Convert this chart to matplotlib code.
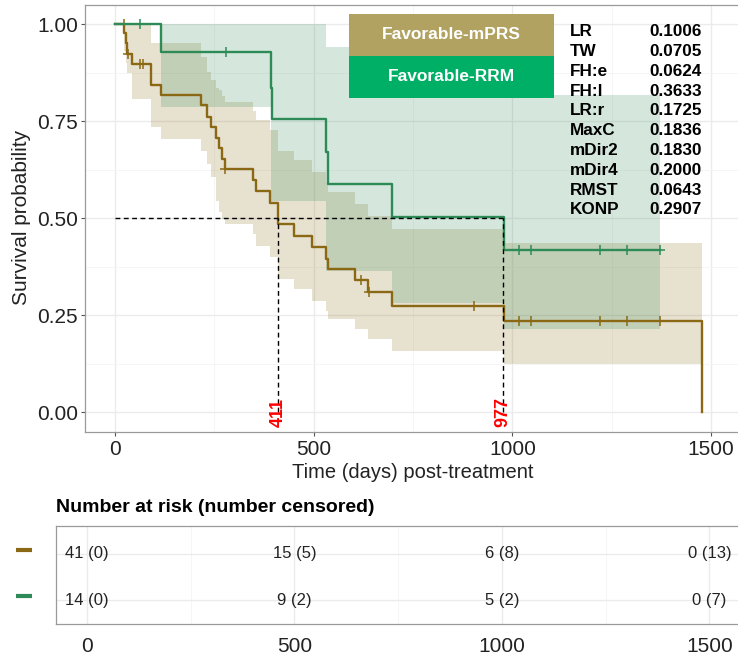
import numpy as np
import matplotlib
matplotlib.use("Agg")
import matplotlib.pyplot as plt
from matplotlib.patches import Rectangle
from matplotlib.transforms import blended_transform_factory

plt.rcParams['font.family'] = ['Liberation Sans', 'DejaVu Sans']

# Kaplan-Meier steps (time, survival, lower CI, upper CI)
mprs_t = [0, 23, 27, 31, 42, 92, 115, 217, 232, 242, 255, 261, 270, 278, 347, 355,
          391, 410, 450, 496, 531, 535, 604, 636, 696, 978, 1478]
mprs_s = [1.0, 0.976, 0.951, 0.924, 0.898, 0.842, 0.817, 0.791, 0.760, 0.735, 0.707,
          0.681, 0.653, 0.627, 0.597, 0.569, 0.540, 0.485, 0.455, 0.426, 0.394, 0.369,
          0.340, 0.310, 0.274, 0.235, 0.0]
mprs_lo = [1.0, 0.93, 0.90, 0.873, 0.808, 0.735, 0.705, 0.674, 0.640, 0.605, 0.545,
           0.515, 0.498, 0.485, 0.459, 0.429, 0.399, 0.343, 0.317, 0.287, 0.262, 0.240,
           0.214, 0.188, 0.158, 0.125, 0.125]
mprs_hi = [1.0, 1.0, 1.0, 1.0, 1.0, 0.950, 0.950, 0.916, 0.877, 0.855, 0.835, 0.829,
           0.815, 0.799, 0.775, 0.752, 0.728, 0.674, 0.649, 0.620, 0.590, 0.567, 0.537,
           0.506, 0.472, 0.437, 0.437]
mprs_cens = [22, 34, 63, 71, 278, 619, 640, 903, 1016, 1048, 1221, 1288, 1371]

rrm_t = [0, 115, 393, 396, 531, 535, 698, 978, 1371]
rrm_s = [1.0, 0.929, 0.836, 0.756, 0.670, 0.588, 0.502, 0.418, 0.418]
rrm_lo = [1.0, 0.786, 0.545, 0.545, 0.364, 0.364, 0.282, 0.214, 0.214]
rrm_hi = [1.0, 1.0, 1.0, 1.0, 0.941, 0.941, 0.88, 0.817, 0.817]
rrm_cens = [63, 280, 1016, 1048, 1221, 1288, 1371]

medians = [411, 977]

test_names = ['LR', 'TW', 'FH:e', 'FH:l', 'LR:r', 'MaxC', 'mDir2', 'mDir4', 'RMST', 'KONP']
test_p = ['0.1006', '0.0705', '0.0624', '0.3633', '0.1725', '0.1836', '0.1830',
          '0.2000', '0.0643', '0.2907']

groups = ['Favorable-mPRS', 'Favorable-RRM']
risk_times = [0, 500, 1000, 1500]
mprs_risk = [41, 15, 6, 0]
mprs_ncens = [0, 5, 8, 13]
rrm_risk = [14, 9, 5, 0]
rrm_ncens = [0, 2, 2, 7]

gold = '#8B6914'
green = '#2E8B57'
box_cols = ['#B1A262', '#00AF66']

W, H = 738, 656
fig = plt.figure(figsize=(W/100, H/100), dpi=100)

def px_axes(l, t, r, b):
    return fig.add_axes([l/W, 1 - b/H, (r - l)/W, (b - t)/H])

def style(a):
    for s in a.spines.values():
        s.set_color('#9a9a9a')
        s.set_linewidth(0.9)
    a.grid(which='major', color='#ebebeb', lw=1.0)
    a.grid(which='minor', color='#f4f4f4', lw=0.6)
    a.set_axisbelow(True)
    a.tick_params(which='major', length=3, width=0.8, color='#555555',
                  labelsize=15, labelcolor='#222222')
    a.tick_params(which='minor', length=0)

# main survival panel
ax = px_axes(85, 4.6, 741, 431.7)
ax.set_xlim(-75, 1575)
ax.set_ylim(-0.05, 1.05)
ax.set_xticks([0, 500, 1000, 1500])
ax.set_xticks([250, 750, 1250], minor=True)
ax.set_yticks([0, 0.25, 0.5, 0.75, 1.0])
ax.set_yticklabels(['0.00', '0.25', '0.50', '0.75', '1.00'])
ax.set_yticks([0.125, 0.375, 0.625, 0.875], minor=True)
style(ax)
ax.tick_params(axis='x', pad=3)
ax.tick_params(axis='y', pad=2)

for t, s, lo, hi, cens, col in [(mprs_t, mprs_s, mprs_lo, mprs_hi, mprs_cens, gold),
                                (rrm_t, rrm_s, rrm_lo, rrm_hi, rrm_cens, green)]:
    ax.fill_between(t, lo, hi, step='post', color=col, alpha=0.2, lw=0)
for t, s, lo, hi, cens, col in [(mprs_t, mprs_s, mprs_lo, mprs_hi, mprs_cens, gold),
                                (rrm_t, rrm_s, rrm_lo, rrm_hi, rrm_cens, green)]:
    ax.plot(t, s, drawstyle='steps-post', color=col, lw=1.7)
    idx = np.searchsorted(t, cens, side='right') - 1
    ax.plot(cens, np.array(s)[idx], '+', color=col, ms=7.5, mew=1.1)

# median survival guides
ax.plot([0, max(medians)], [0.5, 0.5], color='black', lw=1.0, ls=(0, (3.5, 2.5)))
for m in medians:
    ax.plot([m, m], [0, 0.5], color='black', lw=1.0, ls=(0, (3.5, 2.5)))
    ax.text(m, 0.0, str(m), color='red', fontsize=13, fontweight='bold',
            rotation=90, ha='center', va='center')

fig.text(21.7/W, 1 - 217/H, 'Survival probability', rotation=90, fontsize=15,
         ha='center', va='center', color='#222222')
fig.text(413/W, 1 - 473/H, 'Time (days) post-treatment', fontsize=14.5,
         ha='center', va='center', color='#222222')

# group boxes
for i, (g, c) in enumerate(zip(groups, box_cols)):
    top = 14 + i*41.8
    fig.add_artist(Rectangle((349/W, 1 - (top + 41.8)/H), 205/W, 41.8/H,
                             transform=fig.transFigure, color=c, lw=0))
    fig.text(451.5/W, 1 - (top + 20.9)/H, g, color='white', fontsize=12.5,
             fontweight='bold', ha='center', va='center')

# test p-values
for i, (n, p) in enumerate(zip(test_names, test_p)):
    y = 1 - (31.7 + 19.8*i)/H
    fig.text(570/W, y, n, fontsize=12.3, fontweight='bold', ha='left', va='center')
    fig.text(649/W, y, p, fontsize=12.3, fontweight='bold', ha='left', va='center')

# number at risk table
fig.text(56.5/W, 1 - 507/H, 'Number at risk (number censored)', fontsize=14,
         fontweight='bold', ha='left', va='center')
ax2 = px_axes(55.7, 525.7, 740.5, 624.3)
ax2.set_xlim(-75, 1575)
ax2.set_ylim(0.472, 2.615)
ax2.set_xticks(risk_times)
ax2.set_xticks([250, 750, 1250], minor=True)
ax2.set_yticks([1, 2])
ax2.set_yticklabels([])
style(ax2)
ax2.tick_params(axis='y', length=0)
ax2.tick_params(axis='x', length=0, pad=9)
for row, risk, nc in [(2, mprs_risk, mprs_ncens), (1, rrm_risk, rrm_ncens)]:
    for x, r, c in zip(risk_times, risk, nc):
        ax2.text(x, row, f'{r} ({c})', fontsize=12, ha='center', va='center',
                 color='#222222')
tr = blended_transform_factory(fig.transFigure, ax2.transData)
for row, col in [(2.09, gold), (1.09, green)]:
    ax2.plot([15.7/W, 31.7/W], [row, row], color=col, lw=3, transform=tr,
             clip_on=False, solid_capstyle='butt')

fig.savefig('out.png', dpi=100)
